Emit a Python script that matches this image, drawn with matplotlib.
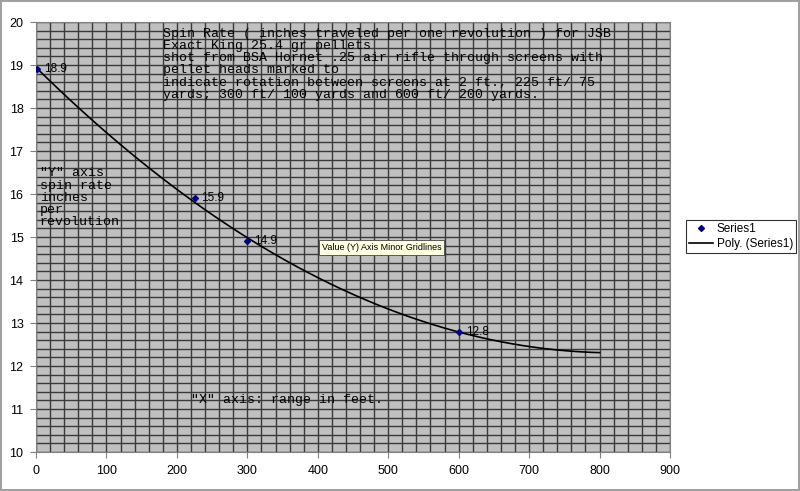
import numpy as np
import matplotlib.pyplot as plt
from matplotlib.lines import Line2D
from matplotlib.ticker import MultipleLocator

plt.rcParams['font.family'] = 'Liberation Sans'

# measured range (ft) and spin rate (inches per revolution)
range_ft = [2, 225, 300, 600]
spin_rate = [18.9, 15.9, 14.9, 12.8]
point_labels = ['18.9', '15.9', '14.9', '12.8']

title_lines = [
    'Spin Rate ( inches traveled per one revolution ) for JSB',
    'Exact King 25.4 gr pellets',
    'shot from BSA Hornet .25 air rifle through screens with',
    'pellet heads marked to',
    'indicate rotation between screens at 2 ft., 225 ft/ 75',
    'yards; 300 ft/ 100 yards and 600 ft/ 200 yards.',
]
y_note = ['"Y" axis', 'spin rate', 'inches', 'per', 'revolution']

fig = plt.figure(figsize=(8, 4.91), dpi=100)
fig.patch.set_edgecolor('#a0a0a0')
fig.patch.set_linewidth(1.5)
ax = fig.add_axes([0.045, 0.0794, 0.7925, 0.8756])
ax.set_facecolor('#c0c0c0')

# poly (order 2) trendline, forecast forward to 800
coef = np.polyfit(range_ft, spin_rate, 2)
xs = np.linspace(0, 800, 200)
ax.plot(xs, np.polyval(coef, xs), color='black', lw=1.2, zorder=3)
ax.plot(range_ft, spin_rate, linestyle='None', marker='D', markersize=3,
        color='#000080', zorder=4)
for x, y, lab in zip(range_ft, spin_rate, point_labels):
    ax.text(x + 10, y, lab, fontsize=8.5, va='center', ha='left', zorder=5)

ax.set_xlim(0, 900)
ax.set_ylim(10, 20)
ax.xaxis.set_major_locator(MultipleLocator(100))
ax.yaxis.set_major_locator(MultipleLocator(1))
ax.xaxis.set_minor_locator(MultipleLocator(20))
ax.yaxis.set_minor_locator(MultipleLocator(0.2))
ax.grid(which='both', color='#3a3a3a', lw=1.0, zorder=1)
ax.set_axisbelow(True)
ax.tick_params(which='minor', length=0)
ax.tick_params(which='major', length=4, color='#808080', labelsize=9, pad=5)
for s in ax.spines.values():
    s.set_color('#808080')

# text boxes drawn in the chart
for i, line in enumerate(title_lines):
    ax.text(0.201, 0.987 - i * 0.0285, line, transform=ax.transAxes,
            family='Liberation Mono', fontsize=9.5, va='top', ha='left', zorder=6)
for i, line in enumerate(y_note):
    ax.text(0.006, 0.662 - i * 0.0285, line, transform=ax.transAxes,
            family='Liberation Mono', fontsize=9.5, va='top', ha='left', zorder=6)
ax.text(0.245, 0.134, '"X" axis: range in feet.', transform=ax.transAxes,
        family='Liberation Mono', fontsize=9.5, va='top', ha='left', zorder=6)

# tooltip
ax.text(0.451, 0.476, 'Value (Y) Axis Minor Gridlines', transform=ax.transAxes,
        fontsize=6.5, va='center', ha='left', zorder=7,
        bbox=dict(boxstyle='square,pad=0.3', fc='#ffffe1', ec='#444444', lw=0.6))

# legend
handles = [
    Line2D([0], [0], marker='D', color='None', markerfacecolor='#000080',
           markeredgecolor='#000080', markersize=3, label='Series1'),
    Line2D([0], [0], color='black', lw=1.2, label='Poly. (Series1)'),
]
leg = fig.legend(handles=handles, loc='upper left', bbox_to_anchor=(0.858, 0.551),
                 fontsize=8.5, frameon=True, fancybox=False, borderpad=0.25,
                 handlelength=2.0, handletextpad=0.3, labelspacing=0.25,
                 borderaxespad=0)
leg.get_frame().set_edgecolor('black')
leg.get_frame().set_linewidth(0.8)

fig.savefig('out.png', dpi=100, edgecolor=fig.get_edgecolor())
